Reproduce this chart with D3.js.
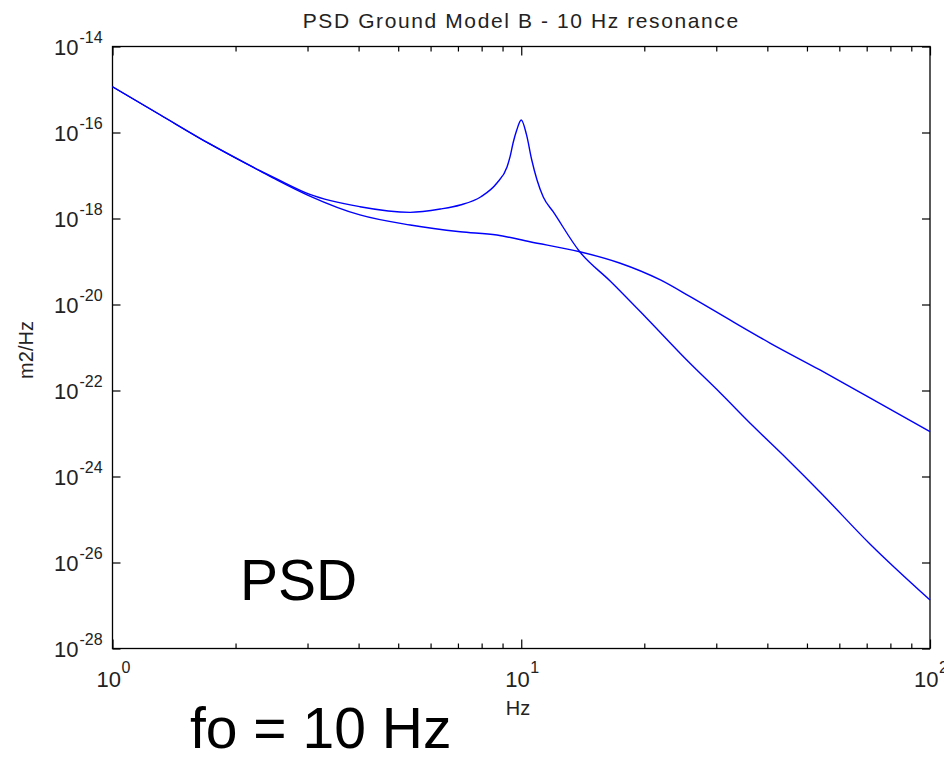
<!DOCTYPE html>
<html>
<head>
<meta charset="utf-8">
<script src="https://cdn.jsdelivr.net/npm/d3@7"></script>
<style>
  body { margin: 0; background: #fff; }
  svg { font-family: "Liberation Sans", Arial, sans-serif; }
</style>
</head>
<body>
<div id="chart"></div>
<script>
// values
const groundFreq = [1.0, 1.31, 1.73, 2.3, 2.53, 3.04, 4.03, 5.35, 7.09, 8.72, 10.5, 13.9, 17.4, 21.9, 25.9, 32.4, 40.6, 53.8, 71.3, 100];
const groundPsd = [1.16e-15, 2.55e-16, 5.41e-17, 1.27e-17, 7.85e-18, 3.33e-18, 1.21e-18, 7.06e-19, 4.93e-19, 4.13e-19,
  2.88e-19, 1.69e-19, 9.23e-20, 3.72e-20, 1.52e-20, 4.37e-21, 1.27e-21, 3.0e-22, 6.7e-23, 1.10e-23];

const resFreq = [1.0, 1.31, 1.73, 2.3, 2.53, 3.04, 4.03, 5.35, 6.34, 7.09, 7.97, 8.72, 9.23, 9.39, 9.55, 9.75, 10.0,
  10.3, 10.61, 10.93, 11.32, 11.98, 13.92, 16.5, 20.3, 25.4, 30.7, 36.9, 44.7, 53.8, 71.3, 100];
const resPsd = [1.16e-15, 2.55e-16, 5.41e-17, 1.28e-17, 8.2e-18, 3.63e-18, 1.88e-18, 1.39e-18, 1.66e-18,
  2.06e-18, 3.21e-18, 6.70e-18, 1.58e-17, 2.74e-17, 5.70e-17, 1.14e-16, 1.95e-16,
  8.91e-17, 2.29e-17, 7.85e-18, 3.16e-18, 1.42e-18, 1.66e-19, 3.52e-20, 4.72e-21, 5.12e-22,
  8.75e-23, 1.49e-23, 2.55e-24, 4.37e-25, 2.69e-26, 1.34e-27];

const xMajor = [1, 10, 100];
const xMinor = [2, 3, 4, 5, 6, 7, 8, 9, 20, 30, 40, 50, 60, 70, 80, 90];
const yMajor = [1e-28, 1e-26, 1e-24, 1e-22, 1e-20, 1e-18, 1e-16, 1e-14];

const width = 944, height = 760;
const plotL = 112.5, plotR = 930, plotT = 46.5, plotB = 648.5;

const svg = d3.select("#chart").append("svg")
    .attr("width", width)
    .attr("height", height);

const x = d3.scaleLog().domain([1, 100]).range([plotL, plotR]);
const y = d3.scaleLog().domain([1e-28, 1e-14]).range([plotB, plotT]);

// ticks, pointing inward on all four sides
function ticks(axis, pos) {
  const g = svg.append("g").attr("transform", pos).call(axis);
  g.select(".domain").remove();
  g.selectAll("line").attr("stroke", "#000").attr("stroke-width", 1.2);
  g.selectAll("text").remove();
}
ticks(d3.axisBottom(x).tickValues(xMajor).tickSize(-9), `translate(0,${plotB})`);
ticks(d3.axisBottom(x).tickValues(xMinor).tickSize(-5), `translate(0,${plotB})`);
ticks(d3.axisTop(x).tickValues(xMajor).tickSize(-9), `translate(0,${plotT})`);
ticks(d3.axisTop(x).tickValues(xMinor).tickSize(-5), `translate(0,${plotT})`);
ticks(d3.axisLeft(y).tickValues(yMajor).tickSize(-8), `translate(${plotL},0)`);
ticks(d3.axisRight(y).tickValues(yMajor).tickSize(-8), `translate(${plotR},0)`);

// box
svg.append("rect")
    .attr("x", plotL).attr("y", plotT)
    .attr("width", plotR - plotL).attr("height", plotB - plotT)
    .attr("fill", "none").attr("stroke", "#000").attr("stroke-width", 1.3);

// x tick labels (10^2 runs off the right edge as in the original)
xMajor.forEach(v => {
  const px = x(v);
  svg.append("text").attr("x", px + 8.5).attr("y", plotB + 38)
      .attr("text-anchor", "end").attr("font-size", 22).attr("fill", "#222").text("10");
  svg.append("text").attr("x", px + 9).attr("y", plotB + 24)
      .attr("font-size", 16).attr("fill", "#222").text(Math.round(Math.log10(v)));
});

// y tick labels
yMajor.forEach(v => {
  const py = y(v);
  svg.append("text").attr("x", 78.5).attr("y", py + 8.5)
      .attr("text-anchor", "end").attr("font-size", 22).attr("fill", "#222").text("10");
  svg.append("text").attr("x", 79.5).attr("y", py - 3.5)
      .attr("font-size", 16).attr("fill", "#222").text(Math.round(Math.log10(v)));
});

// lines
const line = d3.line().x(d => x(d[0])).y(d => y(d[1])).curve(d3.curveMonotoneX);
svg.append("path")
    .datum(d3.zip(groundFreq, groundPsd))
    .attr("d", line)
    .attr("fill", "none").attr("stroke", "#0000ff").attr("stroke-width", 1.4);
svg.append("path")
    .datum(d3.zip(resFreq, resPsd))
    .attr("d", line)
    .attr("fill", "none").attr("stroke", "#0000ff").attr("stroke-width", 1.4);

// title and axis labels
svg.append("text").attr("x", (plotL + plotR) / 2).attr("y", 28)
    .attr("text-anchor", "middle").attr("font-size", 21).attr("letter-spacing", 1.6)
    .attr("fill", "#222").text("PSD Ground Model B - 10 Hz resonance");
svg.append("text").attr("x", 518).attr("y", 715)
    .attr("text-anchor", "middle").attr("font-size", 20).attr("fill", "#222").text("Hz");
svg.append("text")
    .attr("transform", "translate(33,350) rotate(-90)")
    .attr("text-anchor", "middle").attr("font-size", 20).attr("fill", "#222").text("m2/Hz");

// slide annotations
svg.append("text").attr("x", 240).attr("y", 600)
    .attr("font-size", 57).attr("fill", "#000").text("PSD");
svg.append("text").attr("x", 190).attr("y", 748)
    .attr("font-size", 57).attr("fill", "#000").text("fo = 10 Hz");
</script>
</body>
</html>
